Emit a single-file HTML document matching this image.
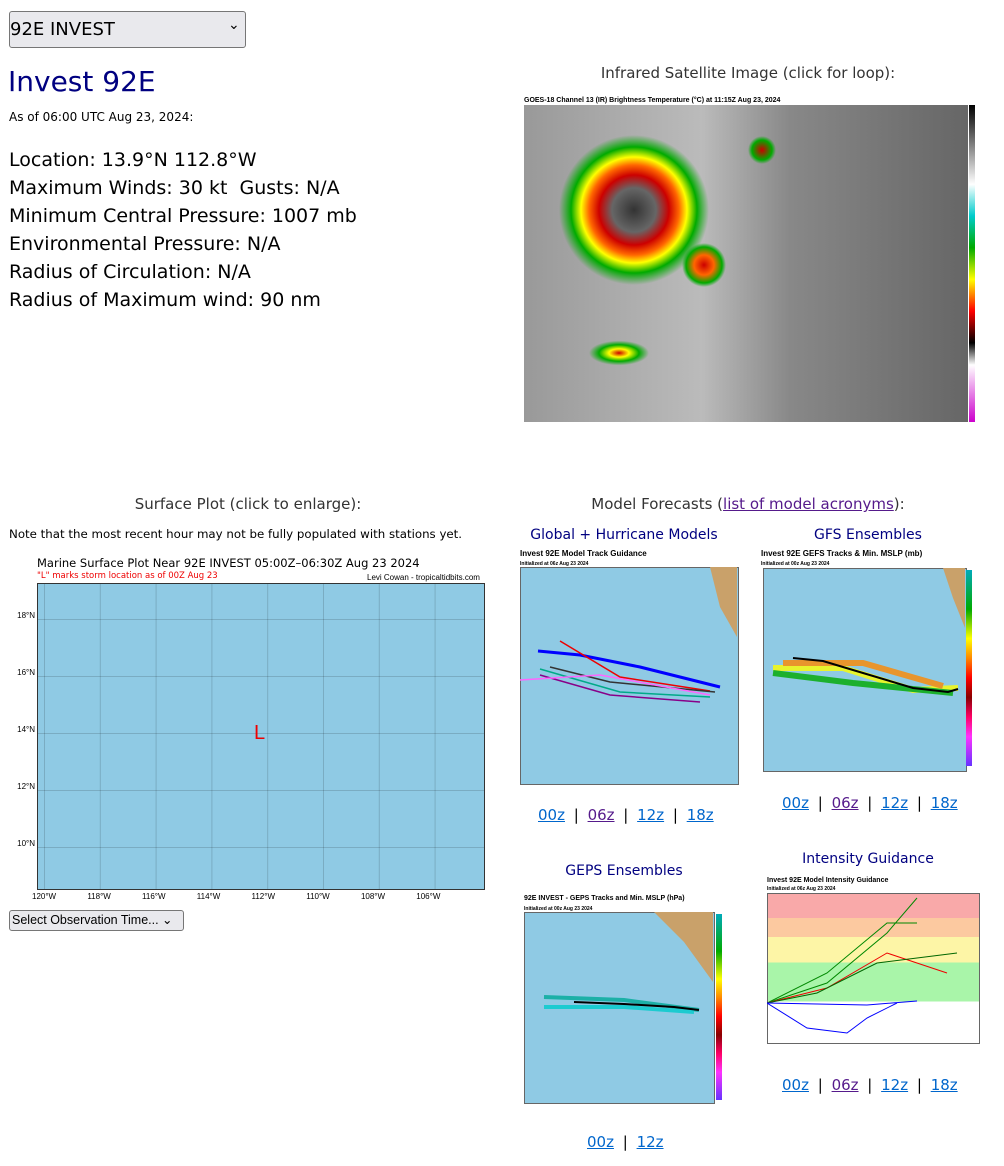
<!DOCTYPE html>
<html><head><meta charset="utf-8">
<style>
body{margin:0;background:#fff;font-family:"DejaVu Sans","Liberation Sans",sans-serif;color:#000;width:1004px;height:1166px;overflow:hidden;position:relative}
.a{position:absolute;white-space:nowrap}
.c{transform:translateX(-50%)}
.sel{border:1px solid #767676;border-radius:3px;background:#e9e9ed}
.lk{color:#0066cc;text-decoration:underline}
.lv{color:#551a8b;text-decoration:underline}
.map{background:#8fcae4;position:absolute}
.sm{font-size:7px;font-weight:bold;font-family:"Liberation Sans",sans-serif}
.ln{font-size:15px;word-spacing:4px}
</style></head><body>
<div class="a sel" style="left:9px;top:11px;width:235px;height:35px"></div>
<div class="a" style="left:10px;top:19px;font-size:18px">92E INVEST</div>
<div class="a" style="left:228px;top:17px;font-size:14px">⌄</div>
<div class="a" style="left:8px;top:65px;font-size:28px;color:#000080">Invest 92E</div>
<div class="a" style="left:9px;top:110px;font-size:12px">As of 06:00 UTC Aug 23, 2024:</div>
<div class="a" style="left:9px;top:146px;font-size:19px;line-height:28px">Location: 13.9°N 112.8°W<br>Maximum Winds: 30 kt&nbsp; Gusts: N/A<br>Minimum Central Pressure: 1007 mb<br>Environmental Pressure: N/A<br>Radius of Circulation: N/A<br>Radius of Maximum wind: 90 nm</div>

<div class="a c" style="left:748px;top:64px;font-size:15px;color:#333">Infrared Satellite Image (click for loop):</div>
<div class="a" style="left:524px;top:97px;font-size:7px;font-weight:bold;font-family:'Liberation Sans'">GOES-18 Channel 13 (IR) Brightness Temperature (°C) at 11:15Z Aug 23, 2024</div>
<div class="a" style="left:524px;top:105px;width:444px;height:317px;background:
radial-gradient(circle at 110px 105px,#333 0,#666 22px,#c00 35px,#f60 45px,#ff0 53px,#0a0 63px,rgba(150,150,150,0) 75px),
radial-gradient(circle at 180px 160px,#c00 0,#f60 10px,#0a0 18px,rgba(0,0,0,0) 22px),
radial-gradient(ellipse 34px 14px at 95px 248px,#c00 0,#ff0 10px,#0a0 20px,rgba(0,0,0,0) 30px),
radial-gradient(circle at 238px 45px,#c00 0,#0a0 10px,rgba(0,0,0,0) 14px),
linear-gradient(90deg,#999 0,#bbb 40%,#888 60%,#666 100%)"></div>
<div class="a" style="left:969px;top:105px;width:6px;height:317px;background:linear-gradient(#000,#fff 25%,#0cc 35%,#0a0 45%,#ff0 55%,#f00 65%,#000 75%,#fff 82%,#c0c 100%)"></div>

<div class="a c" style="left:248px;top:495px;font-size:15px;color:#333">Surface Plot (click to enlarge):</div>
<div class="a" style="left:9px;top:527px;font-size:11.8px">Note that the most recent hour may not be fully populated with stations yet.</div>
<div class="a" style="left:37px;top:556px;font-size:11.5px">Marine Surface Plot Near 92E INVEST 05:00Z–06:30Z Aug 23 2024</div>
<div class="a" style="left:37px;top:571px;font-size:8.5px;color:#e00">"L" marks storm location as of 00Z Aug 23</div>
<div class="a" style="left:367px;top:573px;font-size:8px;font-family:'Liberation Sans'">Levi Cowan - tropicaltidbits.com</div>
<div class="map" style="left:37px;top:583px;width:446px;height:305px;border:1px solid #333;background-image:linear-gradient(90deg,rgba(0,0,0,.15) 1px,transparent 1px),linear-gradient(rgba(0,0,0,.15) 1px,transparent 1px);background-size:55.8px 57px;background-position:6px 35px;background-color:#8fcae4"></div>
<div class="a" style="left:254px;top:722px;font-size:20px;color:#e00;font-family:'Liberation Sans'">L</div>
<div class="a" style="left:8px;top:587px;font-size:8px;line-height:57px;text-align:right;width:27px;font-family:'Liberation Sans'">18°N<br>16°N<br>14°N<br>12°N<br>10°N</div>
<div class="a" style="left:32px;top:892px;font-size:8px;word-spacing:29px;font-family:'Liberation Sans'">120°W 118°W 116°W 114°W 112°W 110°W 108°W 106°W</div>
<div class="a sel" style="left:9px;top:910px;width:173px;height:19px;border-radius:3px"></div>
<div class="a" style="left:12px;top:912px;font-size:12.5px;font-family:'Liberation Sans'">Select Observation Time... ⌄</div>

<div class="a c" style="left:748px;top:495px;font-size:15px;color:#333">Model Forecasts (<span class="lv">list of model acronyms</span>):</div>
<div class="a c" style="left:624px;top:527px;font-size:14px;color:#000080">Global + Hurricane Models</div>
<div class="a c" style="left:868px;top:527px;font-size:14px;color:#000080">GFS Ensembles</div>

<div class="a sm" style="left:520px;top:549px;font-size:8px">Invest 92E Model Track Guidance</div>
<div class="a sm" style="left:520px;top:561px;font-size:5px">Initialized at 06z Aug 23 2024</div>
<div class="map" style="left:520px;top:567px;width:217px;height:216px;border:1px solid #666"></div>
<svg class="a" style="left:520px;top:567px" width="217" height="216"><g fill="none" stroke-width="1.5"><path d="M18 84 L60 88 L120 100 L200 120" stroke="#00f" stroke-width="3"/><path d="M40 74 L100 110 L190 124" stroke="#e00"/><path d="M30 100 L90 115 L195 125" stroke="#333"/><path d="M20 102 L100 125 L190 130" stroke="#0a8"/><path d="M20 108 L90 128 L180 135" stroke="#808"/><path d="M0 113 L80 108 L190 128" stroke="#f6f"/></g><path d="M190 0 L217 0 L217 70 L200 40Z" fill="#c9a16a"/></svg>

<div class="a sm" style="left:761px;top:549px;font-size:8px">Invest 92E GEFS Tracks &amp; Min. MSLP (mb)</div>
<div class="a sm" style="left:761px;top:561px;font-size:5px">Initialized at 00z Aug 23 2024</div>
<div class="map" style="left:763px;top:568px;width:202px;height:202px;border:1px solid #666"></div>
<svg class="a" style="left:763px;top:568px" width="202" height="202"><g fill="none" stroke-width="6" opacity=".8"><path d="M10 100 L80 100 L150 122 L195 120" stroke="#ff0"/><path d="M10 105 L90 115 L190 125" stroke="#0a0"/><path d="M20 95 L100 95 L180 118" stroke="#f80"/></g><path d="M30 90 L60 93 L100 105 L150 120 L185 124 L195 121" fill="none" stroke="#000" stroke-width="2"/><path d="M180 0 L202 0 L202 60 L190 30Z" fill="#c9a16a"/></svg>
<div class="a" style="left:966px;top:570px;width:6px;height:196px;background:linear-gradient(#0ab,#0a0 20%,#ff0 35%,#f80 45%,#f00 55%,#800 65%,#f06 75%,#f3f 85%,#63f 100%)"></div>

<div class="a ln" style="left:538px;top:806px"><span class="lk">00z</span> | <span class="lv">06z</span> | <span class="lk">12z</span> | <span class="lk">18z</span></div>
<div class="a ln" style="left:782px;top:794px"><span class="lk">00z</span> | <span class="lv">06z</span> | <span class="lk">12z</span> | <span class="lk">18z</span></div>

<div class="a c" style="left:624px;top:863px;font-size:14px;color:#000080">GEPS Ensembles</div>
<div class="a c" style="left:868px;top:851px;font-size:14px;color:#000080">Intensity Guidance</div>

<div class="a sm" style="left:524px;top:895px;font-size:7px">92E INVEST - GEPS Tracks and Min. MSLP (hPa)</div>
<div class="a sm" style="left:524px;top:906px;font-size:5px">Initialized at 00z Aug 23 2024</div>
<div class="map" style="left:524px;top:912px;width:189px;height:190px;border:1px solid #666"></div>
<svg class="a" style="left:524px;top:912px" width="189" height="190"><g fill="none" stroke-width="4" opacity=".8"><path d="M20 85 L100 88 L175 98" stroke="#0a9"/><path d="M20 95 L100 95 L170 100" stroke="#0cc"/></g><path d="M50 90 L100 92 L150 95 L175 98" fill="none" stroke="#000" stroke-width="2"/><path d="M130 0 L189 0 L189 70 L160 30Z" fill="#c9a16a"/></svg>
<div class="a" style="left:716px;top:914px;width:6px;height:186px;background:linear-gradient(#0ab,#0a0 20%,#ff0 35%,#f80 45%,#f00 55%,#800 65%,#f06 75%,#f3f 85%,#63f 100%)"></div>

<div class="a sm" style="left:767px;top:877px;font-size:7px">Invest 92E Model Intensity Guidance</div>
<div class="a sm" style="left:767px;top:886px;font-size:5px">Initialized at 06z Aug 23 2024</div>
<div class="a" style="left:767px;top:893px;width:211px;height:149px;border:1px solid #666;background:linear-gradient(#f9a9a9 0,#f9a9a9 16%,#fcc9a0 16%,#fcc9a0 29%,#fdf5a6 29%,#fdf5a6 46%,#a9f5a9 46%,#a9f5a9 72%,#fff 72%)"></div>
<svg class="a" style="left:767px;top:893px" width="211" height="149"><g fill="none" stroke-width="1"><path d="M0 110 L60 90 L120 40 L150 5" stroke="#080"/><path d="M0 110 L60 80 L120 30 L150 30" stroke="#080"/><path d="M0 110 L60 95 L120 60 L180 80" stroke="#e00"/><path d="M0 110 L50 100 L110 70 L190 60" stroke="#060"/><path d="M0 110 L40 135 L80 140 L100 125 L130 110" stroke="#00f"/><path d="M0 110 L100 112 L150 108" stroke="#00f"/></g></svg>

<div class="a ln" style="left:782px;top:1076px"><span class="lk">00z</span> | <span class="lv">06z</span> | <span class="lk">12z</span> | <span class="lk">18z</span></div>
<div class="a ln" style="left:587px;top:1133px"><span class="lk">00z</span> | <span class="lk">12z</span></div>
</body></html>
